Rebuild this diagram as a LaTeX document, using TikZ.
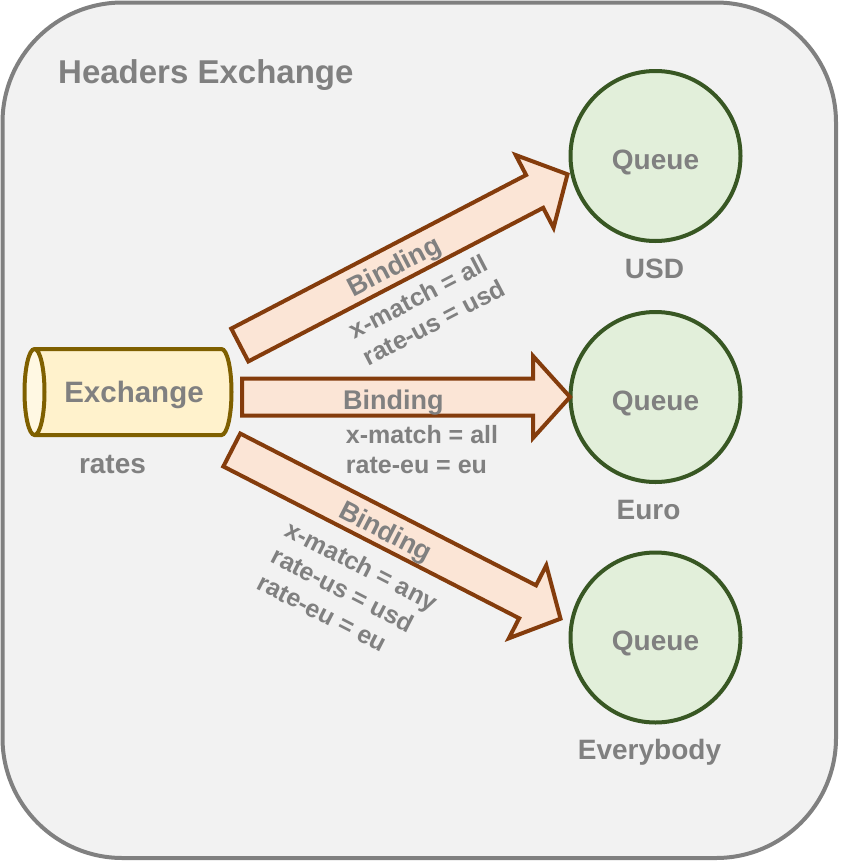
\documentclass[tikz,border=0pt]{standalone}
\usepackage{fontspec}
\setmainfont{Liberation Sans}
\usetikzlibrary{shapes.geometric,calc}
\definecolor{panelfill}{HTML}{F2F2F2}
\definecolor{panelline}{HTML}{808080}
\definecolor{textgray}{HTML}{808080}
\definecolor{exfill}{HTML}{FFF2CC}
\definecolor{exend}{HTML}{FFF8E3}
\definecolor{exline}{HTML}{7F6000}
\definecolor{qfill}{HTML}{E2EFDA}
\definecolor{qline}{HTML}{385723}
\definecolor{bindfill}{HTML}{FBE5D6}
\definecolor{bindline}{HTML}{843C0C}
\begin{document}
\begin{tikzpicture}[x=1pt,y=1pt,
        txt/.style={text=textgray,font=\bfseries\fontsize{28}{34}\selectfont,inner sep=0pt},
        bindtxt/.style={txt,font=\bfseries\fontsize{27}{32}\selectfont},
        keys/.style={text=textgray,font=\bfseries\fontsize{25}{30}\selectfont,align=left,inner sep=0pt},
        queue/.style={circle,draw=qline,fill=qfill,line width=4pt,minimum size=170pt,txt,text height=26pt,text depth=0pt},
        binding/.style={draw=bindline,fill=bindfill,line width=4pt,line join=miter}]
        \useasboundingbox (0,0) rectangle (841,-862);
        \draw[draw=panelline,fill=panelfill,line width=4pt,rounded corners=120pt] (2.5,-2.5) rectangle (836,-858);
        \node[txt,font=\bfseries\fontsize{33}{38}\selectfont,anchor=base west] (title) at (58,-83) {Headers Exchange};
        % exchange and queues
        \node[cylinder,shape border rotate=180,draw=exline,line width=4pt,
            cylinder uses custom fill,cylinder body fill=exfill,cylinder end fill=exend,
            minimum width=86pt,minimum height=207pt,aspect=1,txt,
            font=\bfseries\fontsize{29.5}{34}\selectfont,text height=20pt,text depth=0pt] (ex) at (134,-392) {Exchange};
        \node[txt,anchor=base] (rates) at (112.5,-473) {rates};
        \node[queue] (usd) at (655.5,-156) {Queue};
        \node[queue] (euro) at (655.5,-397) {Queue};
        \node[queue] (every) at (655.5,-637.5) {Queue};
        \node[txt,anchor=base] (usdname) at ($(usd)+(-1,-122)$) {USD};
        \node[txt,anchor=base] (euroname) at ($(euro)+(-7,-122)$) {Euro};
        \node[txt,anchor=base] (everyname) at ($(every)+(-6,-122)$) {Everybody};
        % bindings
        \coordinate (t1) at (239.8,-345); \coordinate (p1) at (567.5,-174.3);
        \coordinate (t2) at (242,-397);   \coordinate (p2) at (570,-397);
        \coordinate (t3) at (231.8,-450); \coordinate (p3) at (560.5,-618.7);
        \foreach \s/\e in {t1/p1,t2/p2,t3/p3}
            \draw[binding] let \p1=($(\e)-(\s)$), \n1={atan2(\y1,\x1)}, \n2={veclen(\x1,\y1)} in
                ($(\s)+(\n1+90:18.5)$) -- ++(\n1:\n2-37) -- ++(\n1+90:22.5) -- (\e)
                -- ($(\s)+(\n1:\n2-37)+(\n1-90:41)$) -- ++(\n1+90:22.5) -- ($(\s)+(\n1-90:18.5)$) -- cycle;
        \node[bindtxt,rotate=27.5] (b1) at (395,-268) {Binding};
        \node[keys,rotate=27.5] (k1) at (427,-309) {x-match = all\\rate-us = usd};
        \node[bindtxt,anchor=base west] (b2) at (343,-409) {Binding};
        \node[keys] (k2) at (422,-450) {x-match = all\\rate-eu = eu};
        \node[bindtxt,rotate=-27.2] (b3) at (385,-533) {Binding};
        \node[keys,rotate=-27.2] (k3) at (348,-592) {x-match = any\\rate-us = usd\\rate-eu = eu};
    \end{tikzpicture}
\end{document}
